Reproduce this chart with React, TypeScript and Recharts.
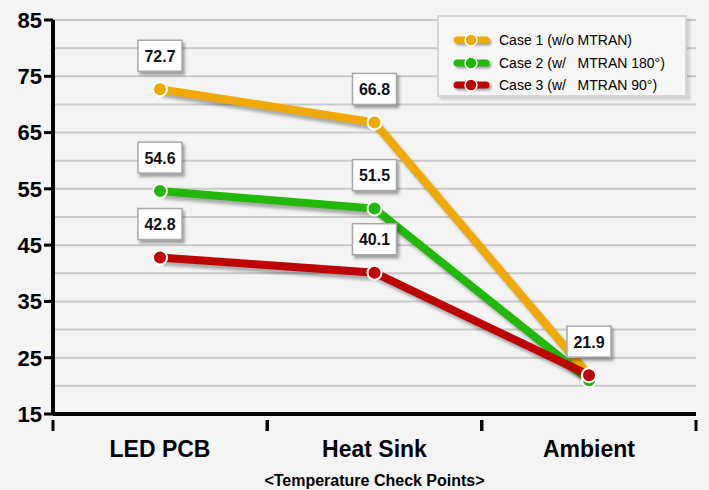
import {
  LabelList,
  Line,
  LineChart,
  ReferenceLine,
  XAxis,
  YAxis,
} from 'recharts';

const categories = ['LED PCB', 'Heat Sink', 'Ambient'];
const case1 = [72.7, 66.8, 21.9];
const case2 = [54.6, 51.5, 21.0];
const case3 = [42.8, 40.1, 21.9];
const seriesNames = [
  'Case 1 (w/o MTRAN)',
  'Case 2 (w/   MTRAN 180°)',
  'Case 3 (w/   MTRAN 90°)',
];
const yTicks = [15, 25, 35, 45, 55, 65, 75, 85];
const gridValues = [20, 25, 30, 35, 40, 45, 50, 55, 60, 65, 70, 75, 80, 85];
const labelledIndexes = [[0, 1], [0, 1], [0, 1, 2]];

const colors = ['#efa900', '#22b80a', '#bd0000'];
const font = '"Liberation Sans", Arial, sans-serif';

const data = categories.map((name, i) => ({
  name,
  case1: case1[i],
  case2: case2[i],
  case3: case3[i],
}));

function ValueBox(props: any, show: number[]) {
  const { x, y, value, index } = props;
  if (!show.includes(index)) return null;
  return (
    <g>
      <rect
        x={x - 22}
        y={y - 49}
        width={44}
        height={31}
        fill="#ffffff"
        stroke="#a8a8a8"
        strokeWidth={1.5}
        style={{ filter: 'drop-shadow(2px 3px 1.5px rgba(0,0,0,0.35))' }}
      />
      <text
        x={x}
        y={y - 33}
        textAnchor="middle"
        dominantBaseline="central"
        fontFamily={font}
        fontWeight="bold"
        fontSize={16}
        fill="#111"
      >
        {value.toFixed(1)}
      </text>
    </g>
  );
}

function CategoryTick(props: any) {
  const { x, y, payload } = props;
  const half = 107;
  return (
    <g>
      <line x1={x - half} x2={x - half} y1={y} y2={y + 11} stroke="#000" strokeWidth={3} />
      <line x1={x + half} x2={x + half} y1={y} y2={y + 11} stroke="#000" strokeWidth={3} />
      <text
        x={x}
        y={y + 29}
        textAnchor="middle"
        dominantBaseline="central"
        fontFamily={font}
        fontWeight="bold"
        fontSize={23}
        fill="#000"
      >
        {payload.value}
      </text>
    </g>
  );
}

function LegendBox() {
  return (
    <div
      style={{
        position: 'absolute',
        left: 437,
        top: 15,
        width: 250,
        height: 82,
        boxSizing: 'border-box',
        border: '2px solid #d6d6d6',
        background: '#f7f7f7',
        boxShadow: '3px 3px 3px rgba(0,0,0,0.15)',
        padding: '12px 0 0 14px',
        fontFamily: font,
        fontSize: 14,
        color: '#000',
      }}
    >
      {seriesNames.map((name, i) => (
        <div key={name} style={{ display: 'flex', alignItems: 'center', height: 22.5 }}>
          <svg width={40} height={16} style={{ marginRight: 6 }}>
            <line
              x1={4}
              x2={33}
              y1={8}
              y2={8}
              stroke={colors[i]}
              strokeWidth={7}
              strokeLinecap="round"
              style={{ filter: 'drop-shadow(2px 2px 1px rgba(0,0,0,0.35))' }}
            />
            <circle cx={18} cy={8} r={6} fill={colors[i]} stroke="#fff" strokeWidth={1.5} />
          </svg>
          <span style={{ whiteSpace: 'pre' }}>{name}</span>
        </div>
      ))}
    </div>
  );
}

export default function App() {
  const keys = ['case1', 'case2', 'case3'];
  return (
    <div
      style={{
        position: 'absolute',
        left: 0,
        top: 0,
        width: 709,
        height: 490,
        background: '#f4f4f4',
      }}
    >
      <style>{`.shadow-line .recharts-line-curve { filter: drop-shadow(3px 4px 1.5px rgba(0,0,0,0.3)); }`}</style>
      <LineChart
        width={709}
        height={490}
        data={data}
        margin={{ top: 20, right: 13, left: 3, bottom: 0 }}
      >
        {gridValues.map((v) => (
          <ReferenceLine key={v} y={v} stroke="#c9c9c9" strokeWidth={2} />
        ))}
        <XAxis
          dataKey="name"
          height={76}
          padding={{ left: 107, right: 107 }}
          axisLine={{ stroke: '#000', strokeWidth: 4 }}
          tickLine={false}
          tickMargin={0}
          tick={<CategoryTick />}
          label={{
            value: '<Temperature Check Points>',
            position: 'insideBottom',
            offset: 4,
            style: { fontFamily: font, fontWeight: 'bold', fontSize: 16, fill: '#000' },
          }}
        />
        <YAxis
          width={50}
          domain={[15, 85]}
          ticks={yTicks}
          interval={0}
          axisLine={{ stroke: '#000', strokeWidth: 4 }}
          tickLine={{ stroke: '#000', strokeWidth: 3 }}
          tickSize={9}
          tick={{ fontFamily: font, fontWeight: 'bold', fontSize: 22, fill: '#000' }}
        />
        {keys.map((k, i) => (
          <Line
            key={k}
            className="shadow-line"
            type="linear"
            dataKey={k}
            name={seriesNames[i]}
            stroke={colors[i]}
            strokeWidth={8}
            dot={{ r: 7, fill: colors[i], stroke: '#fff', strokeWidth: 2 }}
            isAnimationActive={false}
          >
            <LabelList
              dataKey={k}
              content={(p: any) => ValueBox(p, labelledIndexes[i])}
            />
          </Line>
        ))}
      </LineChart>
      <LegendBox />
    </div>
  );
}
